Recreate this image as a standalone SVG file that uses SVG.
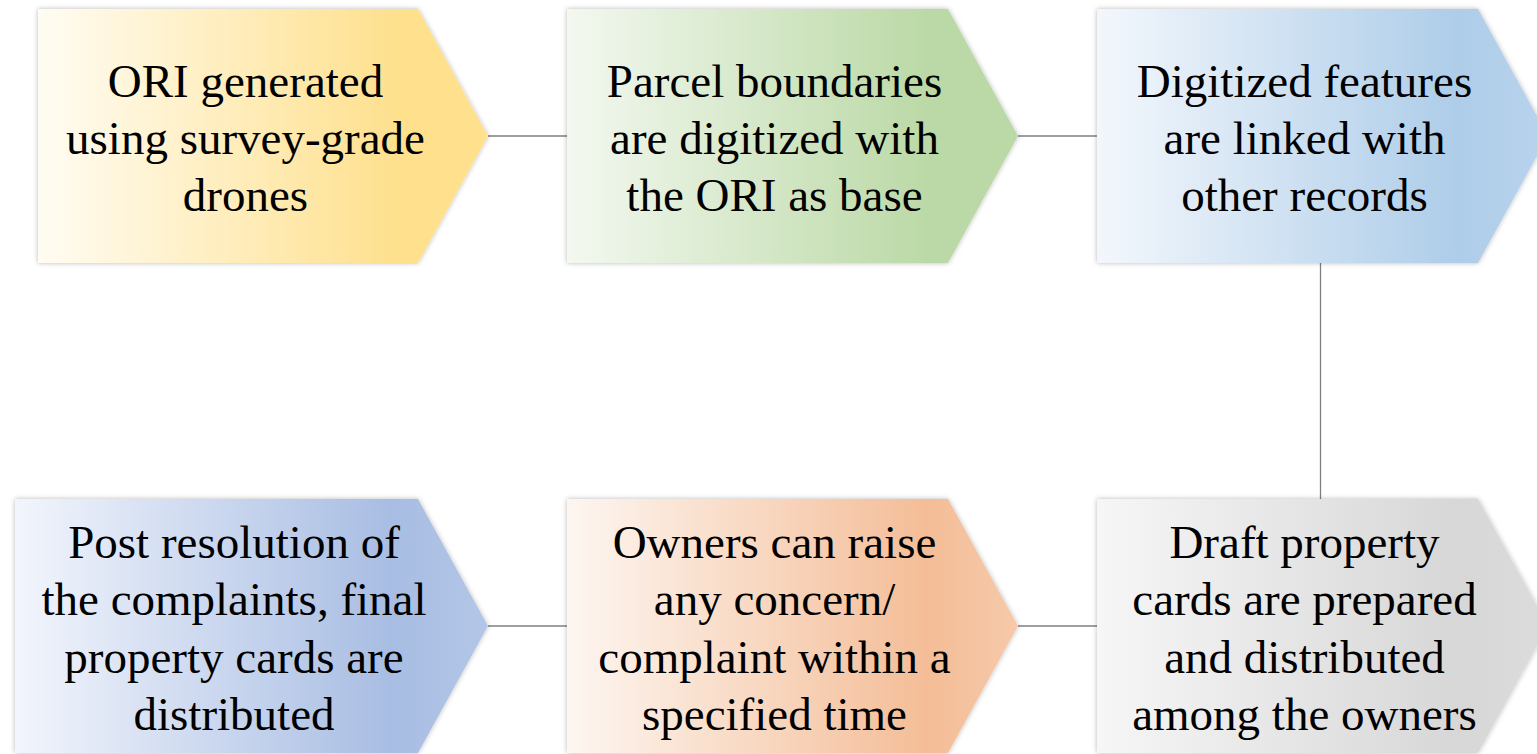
<svg xmlns="http://www.w3.org/2000/svg" width="1537" height="754" viewBox="0 0 1537 754">
  <style>
    .lbl { font-size: 47px; fill: #000; text-anchor: middle; }
    .conn { stroke: #7f7f7f; stroke-width: 1.3; fill: none; }
    .shape { filter: url(#soft); }
  </style>
  <defs>
    <filter id="soft" x="-5%" y="-5%" width="110%" height="110%">
      <feGaussianBlur in="SourceAlpha" stdDeviation="2.5" result="b"/>
      <feFlood flood-color="#000" flood-opacity="0.28"/>
      <feComposite in2="b" operator="in" result="s"/>
      <feMerge><feMergeNode in="s"/><feMergeNode in="SourceGraphic"/></feMerge>
    </filter>
    <linearGradient id="gYellow" x1="0" y1="0" x2="1" y2="0">
      <stop offset="0" stop-color="#fffcf3"/>
      <stop offset="0.8" stop-color="#fee08d"/>
      <stop offset="1" stop-color="#fee08d"/>
    </linearGradient>
    <linearGradient id="gGreen" x1="0" y1="0" x2="1" y2="0">
      <stop offset="0" stop-color="#f3f8f0"/>
      <stop offset="0.8" stop-color="#bbd9a6"/>
      <stop offset="1" stop-color="#bbd9a6"/>
    </linearGradient>
    <linearGradient id="gBlue" x1="0" y1="0" x2="1" y2="0">
      <stop offset="0" stop-color="#f3f7fc"/>
      <stop offset="0.8" stop-color="#aecde9"/>
      <stop offset="1" stop-color="#b9d3ec"/>
    </linearGradient>
    <linearGradient id="gPeri" x1="0" y1="0" x2="1" y2="0">
      <stop offset="0" stop-color="#f2f5fc"/>
      <stop offset="0.8" stop-color="#a8bde3"/>
      <stop offset="1" stop-color="#b3c6e7"/>
    </linearGradient>
    <linearGradient id="gOrange" x1="0" y1="0" x2="1" y2="0">
      <stop offset="0" stop-color="#fdf6f1"/>
      <stop offset="0.8" stop-color="#f4bd97"/>
      <stop offset="1" stop-color="#f6c9aa"/>
    </linearGradient>
    <linearGradient id="gGray" x1="0" y1="0" x2="1" y2="0">
      <stop offset="0" stop-color="#f6f6f6"/>
      <stop offset="0.8" stop-color="#d7d7d7"/>
      <stop offset="1" stop-color="#dcdcdc"/>
    </linearGradient>
  </defs>

  <!-- connectors between steps -->
  <g id="connectors">
    <line class="conn" x1="488" y1="136" x2="567" y2="136"/>
    <line class="conn" x1="1018" y1="136" x2="1097" y2="136"/>
    <line class="conn" x1="1320.5" y1="263" x2="1320.5" y2="499"/>
    <line class="conn" x1="488" y1="626" x2="567" y2="626"/>
    <line class="conn" x1="1018" y1="626" x2="1097" y2="626"/>
  </g>

  <g font-family="Liberation Serif, Times New Roman, DejaVu Serif, serif">
  <!-- top row -->
  <g id="step1">
    <path class="shape" d="M38 9 H418 L488 136 L418 263 H38 Z" fill="url(#gYellow)"/>
    <text class="lbl" x="245.5" y="97">ORI generated</text>
    <text class="lbl" x="245.5" y="154">using survey-grade</text>
    <text class="lbl" x="245.5" y="211">drones</text>
  </g>
  <g id="step2">
    <path class="shape" d="M567 9 H948 L1018 136 L948 263 H567 Z" fill="url(#gGreen)"/>
    <text class="lbl" x="774.5" y="97">Parcel boundaries</text>
    <text class="lbl" x="774.5" y="154">are digitized with</text>
    <text class="lbl" x="774.5" y="211">the ORI as base</text>
  </g>
  <g id="step3">
    <path class="shape" d="M1097 9 H1478 L1548 136 L1478 263 H1097 Z" fill="url(#gBlue)"/>
    <text class="lbl" x="1304.5" y="97">Digitized features</text>
    <text class="lbl" x="1304.5" y="154">are linked with</text>
    <text class="lbl" x="1304.5" y="211">other records</text>
  </g>

  <!-- bottom row -->
  <g id="step4">
    <path class="shape" d="M1097 499 H1478 L1548 626 L1478 753 H1097 Z" fill="url(#gGray)"/>
    <text class="lbl" x="1304.5" y="558">Draft property</text>
    <text class="lbl" x="1304.5" y="615">cards are prepared</text>
    <text class="lbl" x="1304.5" y="673">and distributed</text>
    <text class="lbl" x="1304.5" y="730">among the owners</text>
  </g>
  <g id="step5">
    <path class="shape" d="M567 499 H948 L1018 626 L948 753 H567 Z" fill="url(#gOrange)"/>
    <text class="lbl" x="774.5" y="558">Owners can raise</text>
    <text class="lbl" x="774.5" y="615">any concern/</text>
    <text class="lbl" x="774.5" y="673">complaint within a</text>
    <text class="lbl" x="774.5" y="730">specified time</text>
  </g>
  <g id="step6">
    <path class="shape" d="M15 499 H418 L488 626 L418 753 H15 Z" fill="url(#gPeri)"/>
    <text class="lbl" x="234" y="558">Post resolution of</text>
    <text class="lbl" x="234" y="615">the complaints, final</text>
    <text class="lbl" x="234" y="673">property cards are</text>
    <text class="lbl" x="234" y="730">distributed</text>
  </g>
  </g>
</svg>
